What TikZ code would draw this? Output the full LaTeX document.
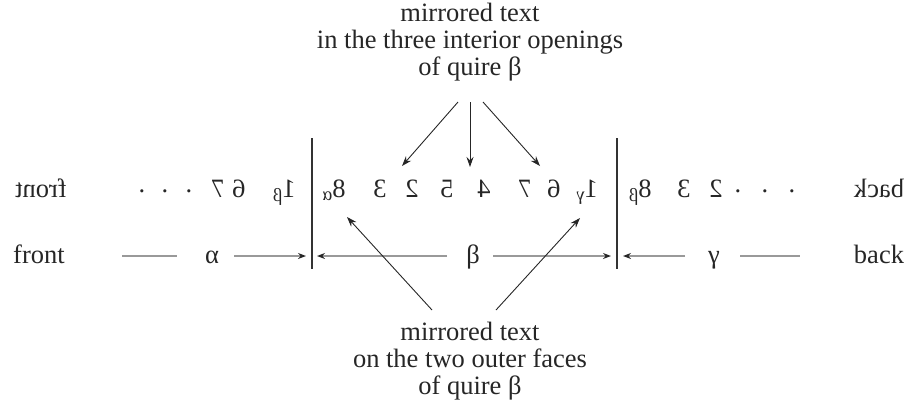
\documentclass[tikz,border=0pt]{standalone}
\usepackage{fontspec}
\setmainfont{Liberation Serif}
\usepackage{graphicx}
\usetikzlibrary{arrows.meta}
\begin{document}
\begin{tikzpicture}[x=1pt,y=-1pt,
  lbl/.style={font=\fontsize{26.5}{27}\selectfont, align=center, inner sep=0pt, text=black!85},
  num/.style={font=\fontsize{26.5}{27}\selectfont, anchor=base, inner sep=0pt, text=black!85},
  bar/.style={line width=2.6pt, draw=black!80},
  gline/.style={draw=black!40, line width=1.3pt},
  garr/.style={gline, -{Stealth[length=8pt,width=6pt,color=black!85]}},
  arr/.style={-{Stealth[length=10pt,width=7pt]}, line width=0.9pt, draw=black!85}]
\useasboundingbox (0,0) rectangle (910,408);

% top and bottom captions
\node[lbl] (top) at (470,42) {mirrored text\\in the three interior openings\\of quire β};
\node[lbl] (bot) at (470,361) {mirrored text\\on the two outer faces\\of quire β};

% bars
\coordinate (b1t) at (312,138); \coordinate (b1b) at (312,269);
\coordinate (b2t) at (617,138); \coordinate (b2b) at (617,269);
\draw[bar] (b1t) -- (b1b);
\draw[bar] (b2t) -- (b2b);

% mirrored row
\node[num] (mfront) at (41,197) {\reflectbox{front}};
\node[num] (d1) at (142,192) {.};
\node[num] (d2) at (165,192) {.};
\node[num] (d3) at (189,192) {.};
\node[num] (a7) at (218,197) {\reflectbox{7}};
\node[num] (a6) at (239,197) {\reflectbox{6}};
\node[num] (a1) at (284,197) {\reflectbox{1\textsubscript{β}}};
\node[num] (b8) at (334,197) {\reflectbox{8\textsubscript{α}}};
\node[num] (b3) at (380,197) {\reflectbox{3}};
\node[num] (b2) at (412,197) {\reflectbox{2}};
\node[num] (b5) at (447,197) {\reflectbox{5}};
\node[num] (b4) at (484,197) {\reflectbox{4}};
\node[num] (b7) at (525,197) {\reflectbox{7}};
\node[num] (b6) at (554,197) {\reflectbox{6}};
\node[num] (b1) at (587,197) {\reflectbox{1\textsubscript{γ}}};
\node[num] (c8) at (640,197) {\reflectbox{8\textsubscript{β}}};
\node[num] (c3) at (684,197) {\reflectbox{3}};
\node[num] (c2) at (716,197) {\reflectbox{2}};
\node[num] (e1) at (738,192) {.};
\node[num] (e2) at (765,192) {.};
\node[num] (e3) at (792,192) {.};
\node[num] (mback) at (879,197) {\reflectbox{back}};

% quire row
\node[num] (front) at (39,263) {front};
\node[num] (alpha) at (212,263) {α};
\node[num] (beta) at (473,263) {β};
\node[num] (gamma) at (714,263) {γ};
\node[num] (back) at (879,263) {back};

\coordinate (l1a) at (122,256); \coordinate (l1b) at (177,256);
\coordinate (l2a) at (234,256); \coordinate (l2b) at (306,256);
\coordinate (l3a) at (447,256); \coordinate (l3b) at (317,256);
\coordinate (l4a) at (493,256); \coordinate (l4b) at (611,256);
\coordinate (l5a) at (685,256); \coordinate (l5b) at (623,256);
\coordinate (l6a) at (740,256); \coordinate (l6b) at (800,256);
\draw[gline] (l1a) -- (l1b);
\draw[garr] (l2a) -- (l2b);
\draw[garr] (l3a) -- (l3b);
\draw[garr] (l4a) -- (l4b);
\draw[garr] (l5a) -- (l5b);
\draw[gline] (l6a) -- (l6b);

% arrows from captions
\coordinate (t1) at (458,102); \coordinate (t2) at (470,102); \coordinate (t3) at (483,102);
\coordinate (o1) at (402,166); \coordinate (o2) at (470,167); \coordinate (o3) at (540,166);
\draw[arr] (t1) -- (o1);
\draw[arr] (t2) -- (o2);
\draw[arr] (t3) -- (o3);
\coordinate (s1) at (432,310); \coordinate (s2) at (496,310);
\coordinate (f1) at (347,217); \coordinate (f2) at (580,218);
\draw[arr] (s1) -- (f1);
\draw[arr] (s2) -- (f2);
\end{tikzpicture}
\end{document}
